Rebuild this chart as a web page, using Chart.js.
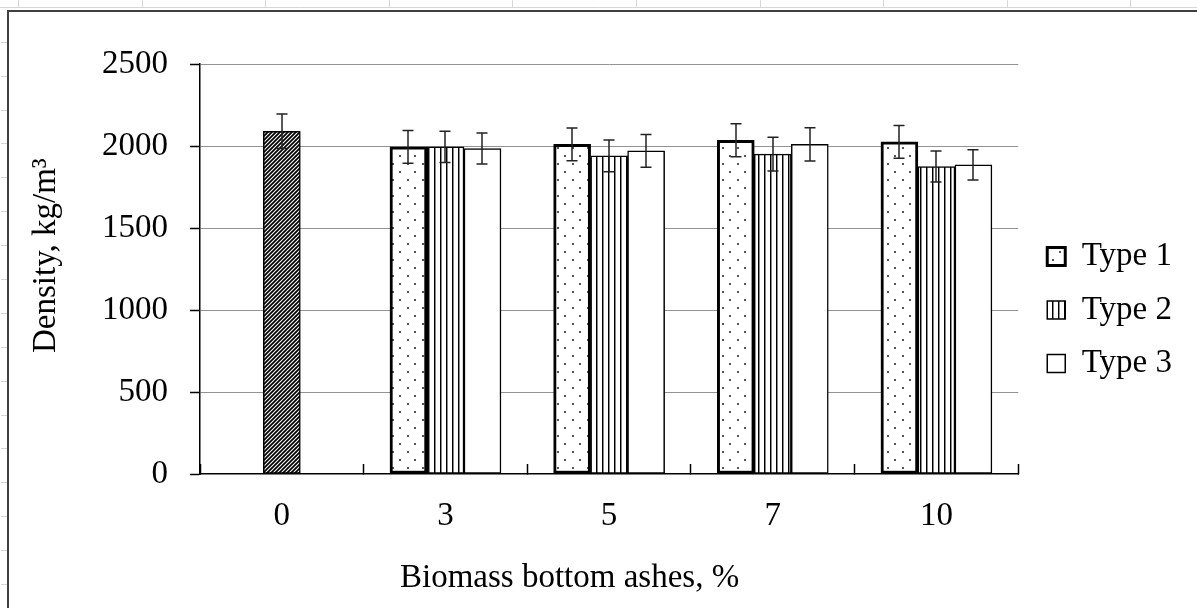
<!DOCTYPE html>
<html>
<head>
<meta charset="utf-8">
<script src="https://cdn.jsdelivr.net/npm/chart.js@4.4.1/dist/chart.umd.min.js"></script>
<style>
  html, body { margin: 0; padding: 0; background: #fff; overflow: hidden; }
  canvas { display: block; }
</style>
</head>
<body>
<canvas id="c" width="1197" height="608"></canvas>
<script>
// ---------------- data ----------------
const categories = ['0', '3', '5', '7', '10'];
const seriesNames = ['Control', 'Type 1', 'Type 2', 'Type 3'];
const controlValues = [2090, null, null, null, null];
const controlErrors = [105, null, null, null, null];
const type1Values = [null, 1995, 2010, 2035, 2025];
const type1Errors = [null, 100, 100, 100, 100];
const type2Values = [null, 1995, 1940, 1950, 1875];
const type2Errors = [null, 95, 97, 103, 95];
const type3Values = [null, 1985, 1970, 2010, 1885];
const type3Errors = [null, 95, 100, 102, 92];
const yMin = 0, yMax = 2500, yStep = 500;
const xTitle = 'Biomass bottom ashes, %';
const yTitle = 'Density, kg/m\u00B3';
// --------------------------------------

const FONT = '"Liberation Serif", "Times New Roman", serif';
Chart.defaults.font.family = FONT;
Chart.defaults.font.size = 33;
Chart.defaults.color = '#000';

const canvas = document.getElementById('c');
const mainCtx = canvas.getContext('2d');

function makePattern(w, h, draw) {
  const c = document.createElement('canvas');
  c.width = w; c.height = h;
  const g = c.getContext('2d');
  g.fillStyle = '#fff';
  g.fillRect(0, 0, w, h);
  draw(g);
  return mainCtx.createPattern(c, 'repeat');
}

const hatchPattern = makePattern(4, 4, g => {
  g.strokeStyle = '#000';
  g.lineWidth = 1.8;
  g.beginPath();
  g.moveTo(-1, 5); g.lineTo(5, -1);
  g.moveTo(-1, 1); g.lineTo(1, -1);
  g.moveTo(3, 5); g.lineTo(5, 3);
  g.stroke();
});
const dotPattern = makePattern(15, 16, g => {
  g.fillStyle = '#555';
  g.fillRect(2, 3, 2, 2);
  g.fillRect(9, 11, 2, 2);
});
const vlinePattern = makePattern(6, 2, g => {
  g.fillStyle = '#000';
  g.fillRect(2, 0, 1, 2);
  g.fillStyle = '#8a8a8a';
  g.fillRect(3, 0, 1, 2);
});

const framePlugin = {
  id: 'frame',
  beforeDraw(chart) {
    const { ctx, width, height } = chart;
    ctx.save();
    ctx.fillStyle = '#fff';
    ctx.fillRect(0, 0, width, height);
    ctx.strokeStyle = '#d6d6d6';
    ctx.lineWidth = 1;
    ctx.beginPath();
    ctx.moveTo(0, 7.5); ctx.lineTo(width, 7.5);
    for (let k = 0; k < 10; k++) {
      const x = Math.round(18 + k * 123.6) + 0.5;
      ctx.moveTo(x, 0); ctx.lineTo(x, 7);
    }
    for (let k = 0; k < 17; k++) {
      const y = Math.round(41.7 + k * 33.9) + 0.5;
      ctx.moveTo(1, y); ctx.lineTo(7, y);
    }
    ctx.stroke();
    ctx.strokeStyle = '#404040';
    ctx.lineWidth = 2;
    ctx.beginPath();
    ctx.moveTo(8, height); ctx.lineTo(8, 11); ctx.lineTo(width, 11);
    ctx.stroke();
    ctx.restore();
  }
};

const errorBarPlugin = {
  id: 'errorBars',
  afterDatasetsDraw(chart) {
    const { ctx } = chart;
    const ys = chart.scales.y;
    ctx.save();
    ctx.strokeStyle = '#222';
    ctx.lineWidth = 1.5;
    chart.data.datasets.forEach((ds, di) => {
      const meta = chart.getDatasetMeta(di);
      if (meta.hidden) return;
      meta.data.forEach((bar, i) => {
        const v = ds.data[i], e = ds.errorBars[i];
        if (v == null || e == null) return;
        const x = Math.round(bar.x);
        const yTop = ys.getPixelForValue(v + e);
        const yBot = ys.getPixelForValue(v - e);
        ctx.beginPath();
        ctx.moveTo(x, yTop); ctx.lineTo(x, yBot);
        ctx.moveTo(x - 5.5, yTop); ctx.lineTo(x + 5.5, yTop);
        ctx.moveTo(x - 5.5, yBot); ctx.lineTo(x + 5.5, yBot);
        ctx.stroke();
      });
    });
    ctx.restore();
  }
};

const axisTitlePlugin = {
  id: 'axisTitles',
  afterDraw(chart) {
    const { ctx } = chart;
    ctx.save();
    ctx.fillStyle = '#000';
    ctx.font = '33px ' + FONT;
    ctx.textBaseline = 'alphabetic';
    ctx.textAlign = 'left';
    ctx.fillText(xTitle, 400, 587);
    ctx.translate(55, 353);
    ctx.rotate(-Math.PI / 2);
    ctx.fillText(yTitle, 0, 0);
    ctx.restore();
  }
};

new Chart(canvas, {
  type: 'bar',
  data: {
    labels: categories,
    datasets: [
      { label: seriesNames[0], data: controlValues, errorBars: controlErrors,
        backgroundColor: hatchPattern, borderColor: '#000', borderWidth: 1.5 },
      { label: seriesNames[1], data: type1Values, errorBars: type1Errors,
        backgroundColor: dotPattern, borderColor: '#000', borderWidth: 3 },
      { label: seriesNames[2], data: type2Values, errorBars: type2Errors,
        backgroundColor: vlinePattern, borderColor: '#000', borderWidth: 1.5 },
      { label: seriesNames[3], data: type3Values, errorBars: type3Errors,
        backgroundColor: '#fff', borderColor: '#000', borderWidth: 1.5 }
    ]
  },
  options: {
    responsive: false,
    animation: false,
    devicePixelRatio: 1,
    layout: { padding: { top: 12, right: 15, bottom: 0, left: 0 } },
    datasets: { bar: { skipNull: true, barThickness: 37, borderSkipped: false } },
    scales: {
      x: {
        type: 'category',
        offset: true,
        grid: { display: true, drawOnChartArea: false, drawTicks: true, tickLength: -10,
                tickColor: '#000', tickWidth: 1.5, offset: true },
        border: { display: true, color: '#000', width: 1.5 },
        ticks: { padding: 33, color: '#000', font: { size: 33 }, maxRotation: 0, autoSkip: false },
        afterFit: s => { s.height = 134; }
      },
      y: {
        min: yMin, max: yMax,
        ticks: { stepSize: yStep, padding: 22, color: '#000', font: { size: 33 },
                 callback: v => String(v) },
        grid: {
          color: c => (c.tick && c.tick.value === 0) ? 'rgba(0,0,0,0)' : '#939393',
          lineWidth: 1, tickLength: 10, tickColor: '#000', tickWidth: 1.5
        },
        border: { display: true, color: '#000', width: 1.5 },
        afterFit: s => { s.width = 200; s.paddingTop = 64; }
      },
      spacer: {
        type: 'linear', position: 'right', display: true,
        grid: { display: false, drawTicks: false },
        ticks: { display: false },
        border: { display: false },
        afterFit: s => { s.width = 8.5; }
      }
    },
    plugins: {
      legend: {
        position: 'right',
        align: 'center',
        labels: {
          font: { size: 33 },
          color: '#000',
          boxWidth: 18,
          boxHeight: 18,
          padding: 20.5,
          filter: item => item.text !== seriesNames[0]
        }
      },
      tooltip: { enabled: false },
      title: { display: false }
    }
  },
  plugins: [framePlugin, errorBarPlugin, axisTitlePlugin]
});
</script>
</body>
</html>
